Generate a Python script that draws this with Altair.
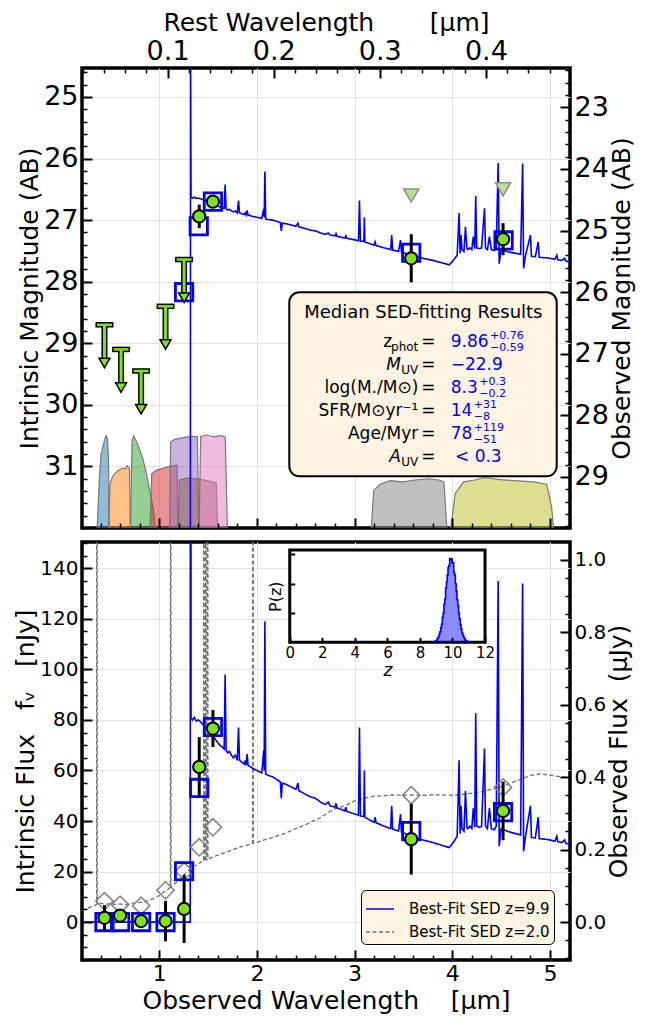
import altair as alt
import numpy as np
import pandas as pd

# ------------------------------------------------------------------
# values
# ------------------------------------------------------------------
ONE_PLUS_Z = 10.86          # rest wavelength = observed / (1+z)
AB_ZP_NJY = 31.4            # AB magnitude of 1 nJy
MAG_OFFSET = 2.17           # intrinsic - observed magnitude
NJY_PER_UJY = 143.4         # intrinsic nJy per observed uJy

# best-fit SED z=9.9 : observed wavelength [um], intrinsic flux [nJy]
SED_WL = [0.21, 1.318, 1.321, 1.326, 1.34, 1.36, 1.38, 1.40, 1.43, 1.45, 1.48, 1.50, 1.52, 1.55,
          1.58, 1.60, 1.62, 1.64, 1.665, 1.675, 1.685, 1.70, 1.72, 1.74, 1.76, 1.78, 1.80, 1.812,
          1.822, 1.84, 1.87, 1.88, 1.89, 1.90, 1.91, 1.95, 2.00, 2.05, 2.07, 2.075, 2.082, 2.09,
          2.12, 2.16, 2.20, 2.24, 2.25, 2.26, 2.30, 2.35, 2.40, 2.42, 2.43, 2.50, 2.55, 2.60, 2.65,
          2.70, 2.73, 2.75, 2.80, 2.81, 2.82, 2.90, 2.91, 2.92, 3.00, 3.04, 3.05, 3.06, 3.095, 3.10,
          3.105, 3.15, 3.20, 3.21, 3.22, 3.30, 3.37, 3.38, 3.39, 3.45, 3.47, 3.48, 3.55, 3.60, 3.70,
          3.80, 3.90, 3.97, 4.02, 4.05, 4.07, 4.08, 4.09, 4.10, 4.12, 4.135, 4.15, 4.16, 4.18, 4.20,
          4.215, 4.23, 4.24, 4.25, 4.28, 4.30, 4.33, 4.34, 4.36, 4.38, 4.40, 4.43, 4.45, 4.47, 4.48,
          4.50, 4.53, 4.56, 4.60, 4.65, 4.70, 4.72, 4.73, 4.75, 4.80, 4.81, 4.85, 4.88, 4.89, 4.95,
          5.00, 5.05, 5.07, 5.08, 5.12, 5.15, 5.16, 5.21]
SED_FLUX = [0.0, 0.0, 900.0, 81.0, 80.0, 81.0, 79.5, 80.0, 79.0, 78.0, 77.0, 76.0, 77.0, 74.0,
            72.0, 71.0, 70.0, 69.5, 68.5, 98.0, 68.0, 67.0, 67.5, 66.0, 65.0, 66.0, 64.0, 77.0,
            64.0, 63.5, 62.5, 64.0, 62.0, 66.5, 62.0, 61.0, 60.0, 59.0, 68.0, 60.0, 119.0, 58.5,
            58.0, 57.5, 56.5, 55.5, 49.0, 55.0, 54.5, 53.5, 52.5, 55.0, 52.0, 50.5, 49.5, 49.0, 47.5,
            46.5, 47.5, 46.0, 45.5, 47.0, 45.2, 44.0, 45.5, 43.8, 42.8, 42.3, 77.0, 42.0, 41.8, 60.0,
            41.5, 40.5, 39.5, 41.5, 39.3, 38.0, 37.0, 46.0, 36.8, 36.0, 42.7, 35.6, 34.5, 33.5, 32.5,
            31.5, 30.3, 29.5, 32.0, 34.0, 64.0, 35.0, 46.0, 37.0, 36.0, 52.0, 37.5, 37.0, 38.0, 37.0,
            45.0, 37.5, 82.6, 38.0, 37.5, 38.0, 68.7, 38.0, 37.0, 45.0, 37.0, 36.5, 38.0, 135.0, 30.0,
            37.0, 36.5, 36.0, 35.5, 35.0, 34.5, 134.0, 28.0, 34.0, 46.0, 33.5, 33.3, 41.5, 33.0, 32.8,
            32.5, 32.0, 34.0, 31.8, 31.5, 32.5, 31.3, 30.5]

# best-fit SED z=2.0
SED2_WL = [0.21, 0.25, 0.30, 0.34, 0.360, 0.363, 0.366, 0.40, 0.45, 0.50, 0.55, 0.60, 0.65, 0.70,
           0.75, 0.80, 0.85, 0.90, 0.95, 1.00, 1.05, 1.09, 1.115, 1.118, 1.121, 1.15, 1.20, 1.25,
           1.30, 1.35, 1.40, 1.44, 1.455, 1.458, 1.461, 1.475, 1.478, 1.481, 1.493, 1.496, 1.499,
           1.55, 1.60, 1.65, 1.70, 1.75, 1.80, 1.85, 1.90, 1.95, 1.957, 1.960, 1.963, 2.00, 2.05,
           2.10, 2.15, 2.20, 2.25, 2.30, 2.35, 2.40, 2.45, 2.50, 2.55, 2.60, 2.65, 2.70, 2.75, 2.80,
           2.85, 2.90, 2.95, 3.00, 3.10, 3.20, 3.30, 3.40, 3.50, 3.60, 3.70, 3.80, 3.90, 4.00, 4.10,
           4.20, 4.30, 4.40, 4.50, 4.60, 4.70, 4.80, 4.90, 5.00, 5.10, 5.21]
SED2_FLUX = [4.5, 5.2, 6.0, 6.6, 7.0, 1000.0, 7.0, 7.5, 7.0, 7.3, 7.0, 7.2, 6.9, 7.3,
             7.5, 7.8, 8.1, 8.6, 9.5, 10.5, 12.0, 13.0, 13.8, 1000.0, 14.0, 15.0, 16.5, 18.5,
             20.5, 22.0, 23.0, 24.0, 24.2, 1000.0, 24.2, 24.5, 1000.0, 24.6, 24.8, 1000.0, 25.0,
             25.8, 26.5, 27.2, 27.8, 28.6, 29.3, 30.0, 30.5, 31.0, 31.2, 1000.0, 31.3, 31.5, 32.2,
             32.8, 33.3, 34.0, 34.6, 35.4, 36.1, 37.0, 37.8, 38.6, 39.5, 40.4, 41.3, 42.6, 43.8, 44.9,
             45.4, 46.0, 47.0, 48.0, 49.0, 49.8, 50.0, 50.3, 50.2, 50.3, 50.1, 50.4, 50.3, 50.2, 50.5,
             51.0, 51.6, 52.5, 53.5, 55.0, 56.5, 58.0, 58.6, 58.1, 57.6, 57.0]

# photometry (bottom panel, nJy)
PHOT_WL = [0.44, 0.60, 0.815, 1.065, 1.255, 1.41, 1.55, 3.58, 4.52]
PHOT_FLUX = [1.7, 2.6, 0.4, 0.4, 5.2, 61.4, 76.6, 32.8, 44.0]
PHOT_ERR = [5.0, 2.5, 2.5, 8.0, 13.5, 11.8, 7.3, 14.0, 11.6]
MODEL_FLUX = [0.0, 0.0, 0.0, 0.0, 20.1, 53.1, 77.2, 36.0, 43.5]
MODEL2_FLUX = [8.3, 6.9, 6.5, 12.6, 20.1, 29.6, 37.5, 50.2, 53.3]

# photometry (top panel, AB mag)
DET_WL = [1.41, 1.55, 3.58, 4.52]
DET_MAG = [26.94, 26.70, 27.62, 27.31]
DET_MAG_ERR = [0.19, 0.10, 0.39, 0.26]
MODEL_MAG_WL = [1.255, 1.405, 1.55, 3.58, 4.525]
MODEL_MAG = [28.17, 27.10, 26.70, 27.53, 27.33]
UPLIM_WL = [0.44, 0.61, 0.815, 1.065, 1.255]
UPLIM_MAG = [28.70, 29.10, 29.45, 28.40, 27.64]
TRI_WL = [3.58, 4.52]
TRI_MAG = [26.60, 26.50]

# filter curves (top edge, in magnitude units of the top panel)
F435W_WL = [0.364, 0.388, 0.405, 0.439, 0.455, 0.471, 0.481, 0.489]
F435W_MAG = [32.05, 31.17, 30.80, 30.58, 30.50, 30.55, 30.85, 32.05]
F606W_WL = [0.481, 0.495, 0.522, 0.556, 0.589, 0.622, 0.650, 0.672, 0.696, 0.706]
F606W_MAG = [32.05, 31.30, 31.17, 31.10, 31.06, 31.03, 31.04, 30.99, 31.03, 32.05]
F814W_WL = [0.706, 0.722, 0.739, 0.772, 0.806, 0.839, 0.873, 0.906, 0.940, 0.963]
F814W_MAG = [32.05, 30.58, 30.50, 30.61, 30.75, 30.91, 31.15, 31.42, 31.69, 32.05]
F105W_WL = [0.906, 0.923, 0.973, 1.04, 1.107, 1.184, 1.19]
F105W_MAG = [32.05, 31.12, 31.06, 31.03, 31.00, 30.98, 32.05]
F125W_WL = [1.107, 1.117, 1.157, 1.224, 1.291, 1.341, 1.391, 1.405]
F125W_MAG = [32.05, 30.61, 30.56, 30.54, 30.52, 30.51, 30.52, 32.05]
F140W_WL = [1.194, 1.207, 1.291, 1.391, 1.492, 1.585, 1.599]
F140W_MAG = [32.05, 31.22, 31.19, 31.20, 31.23, 31.27, 32.05]
F160W_WL = [1.408, 1.425, 1.492, 1.559, 1.626, 1.676, 1.699]
F160W_MAG = [32.05, 30.51, 30.49, 30.52, 30.50, 30.52, 32.05]
CH1_WL = [3.169, 3.196, 3.263, 3.363, 3.496, 3.630, 3.764, 3.864, 3.914, 3.947]
CH1_MAG = [32.05, 31.39, 31.29, 31.23, 31.25, 31.22, 31.20, 31.22, 31.25, 32.05]
CH2_WL = [3.98, 4.03, 4.115, 4.23, 4.33, 4.466, 4.632, 4.833, 4.967, 5.017, 5.04]
CH2_MAG = [32.05, 31.44, 31.25, 31.22, 31.18, 31.21, 31.23, 31.25, 31.29, 31.66, 32.05]
BANDS = ["F435W", "F606W", "F814W", "F105W", "F125W", "F140W", "F160W", "CH1", "CH2"]
BAND_COLORS = ["#1f77b4", "#ff7f0e", "#2ca02c", "#d62728", "#9467bd", "#8c564b", "#e377c2",
               "#7f7f7f", "#bcbd22"]

# redshift probability distribution (inset)
PZ_Z = [8.90, 8.95, 9.00, 9.05, 9.10, 9.15, 9.20, 9.25, 9.30, 9.35, 9.40, 9.45, 9.50, 9.55, 9.60,
        9.65, 9.70, 9.75, 9.80, 9.85, 9.90, 9.95, 10.00, 10.05, 10.10, 10.15, 10.20, 10.25, 10.30,
        10.35, 10.40, 10.45, 10.50, 10.55, 10.60, 10.65, 10.70, 10.75, 10.80, 10.85, 10.90, 10.95,
        11.00]
PZ_P = [0.00, 0.03, 0.06, 0.08, 0.14, 0.18, 0.28, 0.36, 0.50, 0.62, 0.85, 1.00, 1.30, 1.48, 1.85,
        2.05, 2.30, 2.55, 2.62, 2.86, 2.80, 2.85, 2.70, 2.72, 2.40, 2.30, 2.00, 1.75, 1.45,
        1.25, 1.00, 0.80, 0.60, 0.45, 0.33, 0.25, 0.18, 0.12, 0.08, 0.05, 0.03, 0.02, 0.00]

# tick labels
LEFT_MAG_TICKS = [25, 26, 27, 28, 29, 30, 31]
RIGHT_MAG_TICKS = [23, 24, 25, 26, 27, 28, 29]
REST_TICKS = [0.1, 0.2, 0.3, 0.4]
OBS_TICKS = [1, 2, 3, 4, 5]
FLUX_TICKS = [0, 20, 40, 60, 80, 100, 120, 140]
UJY_TICKS = [0.0, 0.2, 0.4, 0.6, 0.8, 1.0]
PZ_X_TICKS = [0, 2, 4, 6, 8, 10, 12]
PZ_Y_TICKS = [1, 2, 3]

SERIES = ["Best-Fit SED z=9.9", "Best-Fit SED z=2.0"]

# text of the results box
RES_TITLE = "Median SED-fitting Results"
RES_VALUES = ["9.86", "\u221222.9", "8.3", "14", "78", "< 0.3"]
RES_SUP = ["+0.76", "", "+0.3", "+31", "+119", ""]
RES_SUB = ["\u22120.59", "", "\u22120.2", "\u22128", "\u221251", ""]

# ------------------------------------------------------------------
# layout / style
# ------------------------------------------------------------------
W, H1, H2 = 488, 460, 418
DX = W - 498                 # shift of the annotation box relative to the reference width
SX = W / 498.0
FONT = "DejaVu Sans"
GREEN = "#7fe31c"
MAJ, MIN = 10, 5
TITLE_FS = 25
LAB_TOP = 27
LAB_BOT_Y = 20
LAB_BOT_X = 22
X_DOM = [0.21, 5.205]
MAG_DOM = [24.53, 32.0]
FLUX_DOM = [-15.0, 150.4]

XS = alt.Scale(domain=X_DOM, nice=False, zero=False)
XREST = alt.Scale(domain=[X_DOM[0] / ONE_PLUS_Z, X_DOM[1] / ONE_PLUS_Z], nice=False, zero=False)
YMAG = alt.Scale(domain=MAG_DOM, reverse=True, nice=False, zero=False)
YOBS = alt.Scale(domain=[MAG_DOM[0] - MAG_OFFSET, MAG_DOM[1] - MAG_OFFSET], reverse=True,
                 nice=False, zero=False)
YF = alt.Scale(domain=FLUX_DOM, nice=False, zero=False)
YU = alt.Scale(domain=[FLUX_DOM[0] / NJY_PER_UJY, FLUX_DOM[1] / NJY_PER_UJY], nice=False, zero=False)
INSET_L, INSET_R, INSET_T, INSET_B = 212 * SX, 411.3 * SX, 8, 100.3
XI = alt.Scale(domain=[0, 12], range=[INSET_L, INSET_R], nice=False, zero=False)
YI = alt.Scale(domain=[0, 3.15], range=[INSET_B, INSET_T], nice=False, zero=False)


def minor(lo, hi, step, majors):
    vals = np.round(np.arange(lo, hi + step / 2, step), 4)
    return [float(v) for v in vals if not np.any(np.isclose(v, majors))]


def tick_axis(orient, values, size, labels=False, **kw):
    base = dict(orient=orient, values=values, offset=-size, tickSize=size, tickColor="black",
                tickWidth=2 if size == MAJ else 1.5, labels=labels, domain=False, grid=False,
                labelFlush=False, labelOverlap=False, labelColor="black", titleColor="black",
                titleFontWeight="normal", zindex=2)
    if "title" not in kw:
        base["title"] = None
    base.update(kw)
    return alt.Axis(**base)


def grid_axis(orient, values):
    return alt.Axis(orient=orient, values=values, grid=True, gridColor="#e3e3e3", gridWidth=1,
                    ticks=False, labels=False, domain=False, title=None, zindex=0)


def axis_layer(xscale, yscale, xaxis, yaxis):
    d = pd.DataFrame({"a": [xscale.domain[0]], "b": [yscale.domain[0]]})
    return alt.Chart(d).mark_point(opacity=0).encode(
        x=alt.X("a:Q", scale=xscale, axis=xaxis),
        y=alt.Y("b:Q", scale=yscale, axis=yaxis))


def label(text, x, y, size, align="left", color="black", style="normal"):
    d = pd.DataFrame({"t": [text]})
    return alt.Chart(d).mark_text(align=align, baseline="alphabetic", fontSize=size, color=color,
                                  fontStyle=style, font=FONT).encode(
        text="t:N", x=alt.value(x), y=alt.value(y))


# ------------------------------------------------------------------
# data frames
# ------------------------------------------------------------------
sed = pd.DataFrame({"wl": SED_WL, "f": SED_FLUX, "series": SERIES[0]})
sed2 = pd.DataFrame({"wl": SED2_WL, "f": SED2_FLUX, "series": SERIES[1]})
phot = pd.DataFrame({"wl": PHOT_WL, "f": PHOT_FLUX, "e": PHOT_ERR, "m": MODEL_FLUX,
                     "m2": MODEL2_FLUX})
det = pd.DataFrame({"wl": DET_WL, "mag": DET_MAG, "e": DET_MAG_ERR})
mod_mag = pd.DataFrame({"wl": MODEL_MAG_WL, "mag": MODEL_MAG})
uplim = pd.DataFrame({"wl": UPLIM_WL, "mag": UPLIM_MAG})
tri = pd.DataFrame({"wl": TRI_WL, "mag": TRI_MAG})
band_curves = [(F435W_WL, F435W_MAG), (F606W_WL, F606W_MAG), (F814W_WL, F814W_MAG),
               (F105W_WL, F105W_MAG), (F125W_WL, F125W_MAG), (F140W_WL, F140W_MAG),
               (F160W_WL, F160W_MAG), (CH1_WL, CH1_MAG), (CH2_WL, CH2_MAG)]
filt = pd.concat([pd.DataFrame({"wl": w, "mag": m, "band": b})
                  for b, (w, m) in zip(BANDS, band_curves)], ignore_index=True)
pz = pd.DataFrame({"z": PZ_Z, "p": PZ_P})

X_T = alt.X("wl:Q", scale=XS, axis=None)

# ------------------------------------------------------------------
# top panel
# ------------------------------------------------------------------
top_layers = []
top_layers.append(axis_layer(XS, YMAG, grid_axis("bottom", OBS_TICKS),
                             grid_axis("left", LEFT_MAG_TICKS)))
top_layers.append(alt.Chart(filt).mark_area(clip=True, fillOpacity=0.5, stroke="#6e6e6e",
                                            strokeWidth=1.2, strokeOpacity=0.9).encode(
    x=X_T, y=alt.Y("mag:Q", scale=YMAG, axis=None, stack=None), y2=alt.value(H1),
    color=alt.Color("band:N", scale=alt.Scale(domain=BANDS, range=BAND_COLORS), legend=None)))
top_layers.append(alt.Chart(sed).transform_calculate(
    mag=f"{AB_ZP_NJY} - 2.5*log(max(datum.f, 0.001))/LN10").mark_line(
    clip=True, color="blue", strokeWidth=1.6).encode(
    x=X_T, y=alt.Y("mag:Q", scale=YMAG, axis=None)))
top_layers.append(alt.Chart(tri).mark_point(shape="triangle-down", filled=True, fill="#b5e28e",
                                            stroke="#8f8f8f", strokeWidth=1.5, size=230,
                                            opacity=1).encode(
    x=X_T, y=alt.Y("mag:Q", scale=YMAG, axis=None)))
top_layers.append(alt.Chart(mod_mag).mark_point(shape="square", filled=False, color="blue",
                                                strokeWidth=2.8, size=300, opacity=1).encode(
    x=X_T, y=alt.Y("mag:Q", scale=YMAG, axis=None)))
top_layers.append(alt.Chart(det).transform_calculate(
    lo="datum.mag - datum.e", hi="datum.mag + datum.e").mark_rule(
    color="black", strokeWidth=3).encode(
    x=X_T, y=alt.Y("lo:Q", scale=YMAG, axis=None), y2="hi:Q"))
top_layers.append(alt.Chart(det).mark_point(shape="circle", filled=True, fill=GREEN,
                                            stroke="black", strokeWidth=2, size=150,
                                            opacity=1).encode(
    x=X_T, y=alt.Y("mag:Q", scale=YMAG, axis=None)))
# upper-limit arrows
arr = alt.Chart(uplim).transform_calculate(tip="datum.mag + 0.58", head="datum.mag + 0.62")
top_layers.append(arr.mark_rule(color="black", strokeWidth=6).encode(
    x=X_T, y=alt.Y("mag:Q", scale=YMAG, axis=None), y2="tip:Q"))
top_layers.append(arr.mark_tick(orient="horizontal", size=18, thickness=5.5, color="black",
                                opacity=1).encode(
    x=X_T, y=alt.Y("mag:Q", scale=YMAG, axis=None)))
top_layers.append(arr.mark_rule(color=GREEN, strokeWidth=3).encode(
    x=X_T, y=alt.Y("mag:Q", scale=YMAG, axis=None), y2="tip:Q"))
top_layers.append(arr.mark_tick(orient="horizontal", size=15, thickness=2.5, color=GREEN,
                                opacity=1).encode(
    x=X_T, y=alt.Y("mag:Q", scale=YMAG, axis=None)))
top_layers.append(arr.mark_point(shape="triangle-down", filled=True, fill=GREEN, stroke="black",
                                 strokeWidth=1.5, size=120, opacity=1).encode(
    x=X_T, y=alt.Y("head:Q", scale=YMAG, axis=None)))

# results box
box_df = pd.DataFrame({"k": [0]})
top_layers.append(alt.Chart(box_df).mark_rect(fill="#fcf3e3", stroke="black", strokeWidth=2,
                                              cornerRadius=10).encode(
    x=alt.value(217.3 + DX), x2=alt.value(484.7 + DX), y=alt.value(224.3), y2=alt.value(408.3)))
top_layers.append(label(RES_TITLE, 351.3 + DX, 249.5, 18, align="center"))
ROW0, DROW = 278.5, 23.0
LAB_R, EQ_X, VAL_X = 346.3 + DX, 356.3 + DX, 378.7 + DX
SCRIPT_FS = 11
rows_y = [ROW0 + DROW * i for i in range(6)]
top_layers.append(label("z", LAB_R - 26.0, rows_y[0], 17, align="right"))
top_layers.append(label("phot", LAB_R, rows_y[0] + 4.5, SCRIPT_FS + 1, align="right"))
top_layers.append(label("M", LAB_R - 17.5, rows_y[1], 17, align="right", style="italic"))
top_layers.append(label("UV", LAB_R, rows_y[1] + 4.5, SCRIPT_FS + 1, align="right"))
top_layers.append(label("log(M./M\u2299)", LAB_R, rows_y[2], 17, align="right"))
top_layers.append(label("SFR/M\u2299yr\u207b\u00b9", LAB_R, rows_y[3], 17, align="right"))
top_layers.append(label("Age/Myr", LAB_R, rows_y[4], 17, align="right"))
top_layers.append(label("A", LAB_R - 17.5, rows_y[5], 17, align="right", style="italic"))
top_layers.append(label("UV", LAB_R, rows_y[5] + 4.5, SCRIPT_FS + 1, align="right"))
for i in range(6):
    top_layers.append(label("=", EQ_X, rows_y[i], 17, align="center"))
VAL_W = {"9.86": 37.8, "8.3": 27.0, "14": 21.6, "78": 21.6}
for i, v in enumerate(RES_VALUES):
    x0 = VAL_X + (4.3 if v.startswith("<") else 0)
    top_layers.append(label(v, x0, rows_y[i], 17, color="blue"))
    if RES_SUP[i]:
        xs = VAL_X + VAL_W[v] + 1.5
        top_layers.append(label(RES_SUP[i], xs, rows_y[i] - 7.5, SCRIPT_FS, color="blue"))
        top_layers.append(label(RES_SUB[i], xs, rows_y[i] + 4.5, SCRIPT_FS, color="blue"))

# axes of the top panel
top_layers.append(axis_layer(
    XS, YMAG,
    tick_axis("bottom", OBS_TICKS, MAJ),
    tick_axis("left", LEFT_MAG_TICKS, MAJ, labels=True, labelFontSize=LAB_TOP, labelPadding=4,
              title="Intrinsic Magnitude (AB)", titleFontSize=TITLE_FS, titlePadding=1)))
top_layers.append(axis_layer(
    XS, YMAG,
    tick_axis("bottom", minor(0.4, 5.2, 0.2, OBS_TICKS), MIN),
    tick_axis("left", minor(24.6, 32.0, 0.2, LEFT_MAG_TICKS), MIN)))
top_layers.append(axis_layer(
    XREST, YOBS,
    tick_axis("top", REST_TICKS, MAJ, labels=True, labelFontSize=LAB_TOP, labelPadding=3,
              format=".1f",
              title="Rest Wavelength" + "\u00a0" * 7 + "[\u03bcm]",
              titleFontSize=TITLE_FS, titlePadding=2),
    tick_axis("right", RIGHT_MAG_TICKS, MAJ, labels=True, labelFontSize=LAB_TOP, labelPadding=4,
              title="Observed Magnitude (AB)", titleFontSize=TITLE_FS, titlePadding=1,
              titleAngle=270, titleBaseline="top")))
top_layers.append(axis_layer(
    XREST, YOBS,
    tick_axis("top", minor(0.02, 0.47, 0.02, REST_TICKS), MIN),
    tick_axis("right", minor(22.4, 29.8, 0.2, RIGHT_MAG_TICKS), MIN)))

top = alt.layer(*top_layers).resolve_scale(
    x="independent", y="independent", color="independent").resolve_axis(
    x="independent", y="independent").properties(width=W, height=H1)

# ------------------------------------------------------------------
# bottom panel
# ------------------------------------------------------------------
LEG = alt.Legend(title=None, orient="bottom-right", offset=16, fillColor="#fcf3e3",
                 strokeColor="black", cornerRadius=5, padding=4, labelFontSize=15,
                 labelFont=FONT, symbolSize=784, symbolStrokeWidth=1.5, rowPadding=0,
                 labelOffset=14, symbolType="stroke", labelLimit=400)
COLOR = alt.Color("series:N", scale=alt.Scale(domain=SERIES, range=["blue", "#707070"]),
                  legend=LEG)
DASH = alt.StrokeDash("series:N", scale=alt.Scale(domain=SERIES, range=[[1, 0], [4, 2.5]]),
                      legend=LEG)

bot_layers = []
bot_layers.append(axis_layer(XS, YF, grid_axis("bottom", OBS_TICKS),
                             grid_axis("left", FLUX_TICKS)))
bot_layers.append(alt.Chart(sed2).mark_line(clip=True, strokeWidth=1.3).encode(
    x=X_T, y=alt.Y("f:Q", scale=YF, axis=None), color=COLOR, strokeDash=DASH))
bot_layers.append(alt.Chart(sed).mark_line(clip=True, strokeWidth=1.6).encode(
    x=X_T, y=alt.Y("f:Q", scale=YF, axis=None), color=COLOR, strokeDash=DASH))
bot_layers.append(alt.Chart(phot).mark_point(shape="diamond", filled=False, color="#808080",
                                             strokeWidth=1.5, size=300, opacity=1).encode(
    x=X_T, y=alt.Y("m2:Q", scale=YF, axis=None)))
bot_layers.append(alt.Chart(phot).mark_point(shape="square", filled=False, color="blue",
                                             strokeWidth=2.8, size=300, opacity=1).encode(
    x=X_T, y=alt.Y("m:Q", scale=YF, axis=None)))
bot_layers.append(alt.Chart(phot).transform_calculate(
    lo="datum.f - datum.e", hi="datum.f + datum.e").mark_rule(
    color="black", strokeWidth=3).encode(
    x=X_T, y=alt.Y("lo:Q", scale=YF, axis=None), y2="hi:Q"))
bot_layers.append(alt.Chart(phot).mark_point(shape="circle", filled=True, fill=GREEN,
                                             stroke="black", strokeWidth=2, size=150,
                                             opacity=1).encode(
    x=X_T, y=alt.Y("f:Q", scale=YF, axis=None)))
# inset P(z)
frame = pd.DataFrame({"x0": [0], "x1": [12], "y0": [0], "y1": [3.15]})
bot_layers.append(alt.Chart(frame).mark_rect(fill="white", stroke="black", strokeWidth=3).encode(
    x=alt.X("x0:Q", scale=XI, axis=None), x2="x1:Q",
    y=alt.Y("y0:Q", scale=YI, axis=None), y2="y1:Q"))
bot_layers.append(alt.Chart(pz).mark_area(interpolate="step", color="blue",
                                          fillOpacity=0.45).encode(
    x=alt.X("z:Q", scale=XI, axis=None), y=alt.Y("p:Q", scale=YI, axis=None),
    y2=alt.datum(0)))
bot_layers.append(alt.Chart(pz).mark_line(interpolate="step", color="blue",
                                          strokeWidth=1.6).encode(
    x=alt.X("z:Q", scale=XI, axis=None), y=alt.Y("p:Q", scale=YI, axis=None)))
bot_layers.append(axis_layer(
    XI, YI,
    alt.Axis(orient="bottom", values=PZ_X_TICKS, offset=-(H2 - INSET_B) - 5, tickSize=5,
             tickWidth=2, tickColor="black", labels=True, labelFontSize=15, labelPadding=3,
             labelFlush=False, labelOverlap=False, labelColor="black", domain=False,
             grid=False, title="z", titleFontSize=17, titleFontStyle="italic",
             titleFontWeight="normal", titlePadding=2, titleColor="black", format="d",
             zindex=2),
    alt.Axis(orient="left", values=PZ_Y_TICKS, offset=-INSET_L - 5, tickSize=5, tickWidth=2,
             tickColor="black", labels=False, domain=False, grid=False, title="P(z)",
             titleFontSize=16, titleFontWeight="normal", titlePadding=5, titleColor="black",
             zindex=2)))

bot_layers.append(axis_layer(
    XS, YF,
    tick_axis("bottom", OBS_TICKS, MAJ, labels=True, labelFontSize=LAB_BOT_X, labelPadding=3,
              format="d", title="Observed Wavelength" + "\u00a0" * 4 + "[\u03bcm]",
              titleFontSize=TITLE_FS, titlePadding=4),
    tick_axis("left", FLUX_TICKS, MAJ, labels=True, labelFontSize=LAB_BOT_Y, labelPadding=4,
              format="d",
              title="Intrinsic Flux" + "\u00a0" * 3 + "f\u1d65" + "\u00a0" * 3 + "[nJy]",
              titleFontSize=TITLE_FS, titlePadding=1)))
bot_layers.append(axis_layer(
    XS, YF,
    tick_axis("bottom", minor(0.4, 5.2, 0.2, OBS_TICKS), MIN),
    tick_axis("left", minor(-15, 150, 5, FLUX_TICKS), MIN)))
bot_layers.append(axis_layer(
    XS, YU, None,
    tick_axis("right", UJY_TICKS, MAJ, labels=True, labelFontSize=LAB_BOT_Y, labelPadding=4,
              format=".1f", title="Observed Flux\u00a0\u00a0(\u03bcJy)", titleFontSize=TITLE_FS,
              titlePadding=1, titleAngle=270, titleBaseline="top")))
bot_layers.append(axis_layer(
    XS, YU, None,
    tick_axis("right", minor(-0.1, 1.05, 0.05, UJY_TICKS), MIN)))

bottom = alt.layer(*bot_layers).resolve_scale(
    x="independent", y="independent").resolve_axis(
    x="independent", y="independent").properties(width=W, height=H2)

chart = alt.vconcat(top, bottom, spacing=9).resolve_scale(
    x="independent", y="independent", color="independent",
    strokeDash="independent").resolve_legend(
    color="independent", strokeDash="independent").properties(
    padding={"left": 4, "top": 0, "right": 0, "bottom": 0}).configure(
    font=FONT).configure_view(stroke="black", strokeWidth=3.5)

chart.save("out.html", embed_options={"renderer": "svg", "actions": False})
